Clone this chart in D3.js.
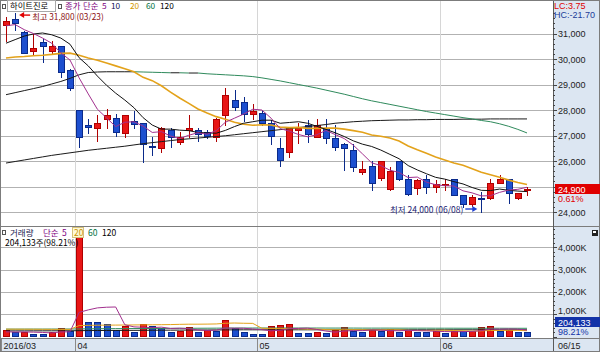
<!DOCTYPE html>
<html><head><meta charset="utf-8">
<script src="https://cdn.jsdelivr.net/npm/d3@7"></script>
<style>
html,body{margin:0;padding:0;background:#fff;}
svg{display:block;font-family:"Liberation Sans",Arial,sans-serif;}
</style></head><body>
<svg id="chart" width="600" height="352"></svg>
<script>
// ---------------- DATA ----------------
const dates = ["03/22","03/23","03/24","03/25","03/28","03/29","03/30","03/31",
"04/01","04/04","04/05","04/06","04/07","04/08","04/11","04/12","04/14","04/15","04/18","04/19","04/20","04/21","04/22","04/25","04/26","04/27","04/28","04/29",
"05/02","05/03","05/04","05/09","05/10","05/11","05/12","05/13","05/16","05/17","05/18","05/19","05/20","05/23","05/24","05/25","05/26","05/27","05/30","05/31",
"06/01","06/02","06/03","06/07","06/08","06/09","06/10","06/13","06/14","06/15"];
const open  = [31350,31550,31050,30300,30650,30300,30500,29550,28000,27400,27300,27650,27700,27100,27550,27500,26600,26500,27200,26750,27200,27200,27150,26950,27800,28400,28300,27850,27900,27500,26500,26350,27200,27400,26950,27300,26900,26650,26450,25550,25800,25350,24900,26000,25300,24950,25300,25000,25050,25300,24650,24300,24550,24550,25150,25300,24550,24850];
const high  = [31650,31800,31100,31000,30800,30700,30500,29600,28000,27650,27800,28050,27850,27800,27950,27500,26950,27350,27300,27150,27800,27300,27200,27700,28850,28800,28500,28250,28000,27600,26900,27350,27500,27600,27650,27650,27400,26700,26650,26000,26000,26000,25750,26000,25450,25300,25450,25250,25300,25300,24650,24650,24800,25300,25450,25300,24750,25000];
const low   = [30700,31150,30250,30150,29900,30200,29300,28800,26550,27100,26800,27300,27000,26950,27300,25950,26250,26350,26550,26650,26950,26800,26900,26800,27400,28000,27550,27650,27400,26650,25800,26150,26700,26750,26950,26700,26450,25650,25600,25500,24850,25250,24850,25250,24650,24700,24750,24800,24850,24650,24200,24250,24000,24500,25150,24350,24500,24650];
const close = [31500,31400,30250,30450,30500,30500,29500,28850,26950,27350,27500,27800,27150,27800,27450,26650,26550,27300,26950,26950,27300,27050,27000,27650,28600,28100,27850,27950,27500,27000,26050,27350,27300,27050,27400,26900,26550,26500,25750,25700,25150,26000,25600,25300,24700,25250,25000,25100,25100,24650,24300,24600,24500,25150,25300,24750,24750,24900];
const volume = [290000,190000,215000,110000,105000,190000,400000,245000,4470000,660000,640000,550000,300000,480000,190000,550000,480000,395000,190000,250000,440000,190000,280000,250000,740000,395000,190000,110000,100000,480000,515000,550000,170000,165000,190000,145000,290000,440000,250000,190000,290000,250000,335000,215000,290000,215000,210000,250000,143000,250000,245000,250000,425000,484000,247000,291000,207855,204133];

const ma5   = [31300,31350,31150,31000,30820,30620,30240,29960,29260,28630,28030,27690,27350,27520,27540,27370,27120,27150,26980,26880,27010,27110,27050,27190,27520,27680,27840,28030,28000,27680,27270,27170,27040,26950,27030,27200,27040,26880,26620,26280,25930,25820,25640,25550,25350,25370,25170,25070,25030,25020,24830,24750,24630,24640,24770,24860,24890,24970];
const ma10  = [30620,30760,30900,30980,31020,30950,30820,30580,30050,29730,29330,28970,28660,28390,28090,27700,27410,27250,27250,27210,27190,27120,27100,27090,27200,27350,27480,27540,27600,27600,27480,27510,27540,27480,27360,27240,27110,26960,26790,26660,26570,26430,26260,26090,25820,25650,25500,25360,25290,25190,25100,24960,24850,24840,24900,24850,24820,24800];
const ma20  = [30040,30080,30100,30130,30150,30180,30220,30230,30150,30040,29950,29840,29730,29620,29500,29280,29150,28950,28700,28470,28260,28040,27880,27740,27640,27520,27440,27400,27420,27410,27330,27310,27320,27280,27280,27290,27290,27250,27190,27130,27020,26970,26900,26780,26590,26440,26300,26160,26040,25920,25830,25700,25560,25460,25360,25250,25160,25080];
const ma60  = [28600,28680,28760,28840,28920,29020,29120,29240,29380,29470,29490,29500,29500,29500,29500,29490,29480,29470,29460,29460,29450,29450,29420,29400,29380,29360,29340,29310,29260,29200,29140,29070,29000,28930,28860,28780,28700,28620,28530,28440,28360,28290,28220,28150,28080,28010,27940,27880,27820,27760,27700,27650,27590,27540,27460,27360,27240,27100];
const ma120 = [25920,25980,26040,26100,26160,26220,26270,26320,26370,26420,26460,26500,26540,26580,26630,26680,26720,26760,26800,26840,26870,26900,26930,26960,26990,27030,27070,27110,27150,27190,27230,27270,27310,27350,27390,27430,27480,27510,27540,27560,27580,27590,27600,27610,27610,27620,27620,27630,27630,27630,27640,27640,27640,27650,27650,27650,27650,27650];

const volMa5   = [210,200,205,195,182,162,204,210,1082,1193,1283,1313,1324,526,432,414,400,419,361,373,351,293,270,282,380,371,371,337,307,255,279,351,363,376,318,244,192,246,263,263,292,284,263,256,276,261,253,236,222,214,220,228,263,331,330,339,331,287];
const volMa20  = [330,328,326,325,322,320,318,318,490,500,505,510,512,515,518,522,525,530,535,545,552,552,556,563,594,605,594,588,369,360,354,354,347,331,331,311,302,304,307,304,296,300,302,300,278,269,270,277,279,268,254,239,252,268,271,278,274,262];
const volMa60  = [330,330,331,332,332,333,334,335,340,345,348,350,352,354,356,358,360,362,364,366,368,370,372,374,376,378,380,380,380,380,380,380,380,380,380,378,378,378,378,376,376,376,376,374,374,374,374,372,372,372,370,370,370,370,370,368,368,368];
const volMa120 = [250,251,252,253,254,255,256,257,262,266,268,270,272,274,276,278,280,282,284,286,288,290,292,294,296,298,300,300,300,300,300,300,300,300,300,300,300,300,300,300,300,300,300,300,300,300,300,300,300,300,300,300,300,300,300,300,300,300];

const priceTicks = [24000,25000,26000,27000,28000,29000,30000,31000];
const volTicks = [1000000,2000000,3000000,4000000];
const volTickLabels = ["1,000K","2,000K","3,000K","4,000K"];
const monthStarts = ["03/22","04/01","05/02","06/01"];
const monthLabels = ["2016/03","04","05","06"];

// ---------------- LAYOUT ----------------
const W = 600, H = 352, PR = 553;
const svg = d3.select("#chart");
const xs = d3.scalePoint().domain(d3.range(dates.length)).range([6, 527]);
const step = xs.step();
const yP = d3.scaleLinear().domain([24000, 31000]).range([212, 33.5]);
const yV = d3.scaleLinear().domain([0, 4000000]).range([336.5, 247.3]);
const RED = "#e81616", RED_D = "#b00000", BLUE = "#1d4fcf", BLUE_D = "#0a2a8a";
const KR = "'Noto Sans CJK KR','Noto Sans',sans-serif";
const fmt = d3.format(",");

svg.append("rect").attr("width", W).attr("height", H).attr("fill", "#fff");
svg.append("rect").attr("x", PR).attr("y", 0).attr("width", W - PR).attr("height", H).attr("fill", "#dce6f2");
svg.append("rect").attr("x", 0).attr("y", 338).attr("width", PR).attr("height", 14).attr("fill", "#dce6f2");

const defs = svg.append("defs");
defs.append("clipPath").attr("id", "cp").append("rect").attr("x", 0).attr("y", 1).attr("width", PR).attr("height", 225);
defs.append("clipPath").attr("id", "cv").append("rect").attr("x", 0).attr("y", 227).attr("width", PR).attr("height", 111);

// gridlines
const grid = svg.append("g").attr("shape-rendering", "crispEdges");
priceTicks.forEach(t => {
  const y = Math.round(yP(t)) + 0.5;
  grid.append("line").attr("x1", 0).attr("x2", PR).attr("y1", y).attr("y2", y).attr("stroke", "#b2b2b2");
});
volTicks.forEach(t => {
  const y = Math.round(yV(t)) + 0.5;
  grid.append("line").attr("x1", 0).attr("x2", PR).attr("y1", y).attr("y2", y).attr("stroke", "#b2b2b2");
});
const monthIdx = monthStarts.map(m => dates.indexOf(m));
monthIdx.forEach((i, k) => {
  const x = Math.round(xs(i) - step / 2) + 0.5;
  if (k > 0) grid.append("line").attr("x1", x).attr("x2", x).attr("y1", 0).attr("y2", 338).attr("stroke", "#d6d6d6");
  grid.append("line").attr("x1", Math.max(x, 0.5)).attr("x2", Math.max(x, 0.5)).attr("y1", 338).attr("y2", 352).attr("stroke", "#8a8a8a");
  grid.append("text").attr("x", Math.max(x, 0) + 2).attr("y", 348.5).attr("font-size", 9).attr("fill", "#222").text(monthLabels[k]);
});

// ---------------- CANDLES ----------------
const gP = svg.append("g").attr("clip-path", "url(#cp)");
const cg = gP.append("g").attr("shape-rendering", "crispEdges");
dates.forEach((d, i) => {
  const up = close[i] >= open[i];
  const cx = Math.round(xs(i));
  const col = up ? RED : BLUE, dk = up ? RED_D : BLUE_D;
  cg.append("line").attr("x1", cx + 0.5).attr("x2", cx + 0.5)
    .attr("y1", Math.round(yP(high[i]))).attr("y2", Math.round(yP(low[i])) + 1).attr("stroke", dk);
  const yt = Math.round(yP(Math.max(open[i], close[i])));
  const yb = Math.round(yP(Math.min(open[i], close[i])));
  cg.append("rect").attr("x", cx - 3 + 0.5).attr("y", yt + 0.5)
    .attr("width", 6).attr("height", Math.max(1, yb - yt))
    .attr("fill", col).attr("stroke", dk);
});

function drawMA(g, arr, color, w, yfun) {
  g.append("path").attr("d", d3.line().x((d, i) => xs(i)).y(d => yfun(d))(arr))
    .attr("fill", "none").attr("stroke", color).attr("stroke-width", w);
}
drawMA(gP, ma120, "#1a1a1a", 1, yP);
// ma60: rising part drawn dark, falling part green
(function () {
  let seg = [0], cur = null;
  const segs = [];
  for (let i = 1; i < ma60.length; i++) {
    const c = ma60[i] < ma60[i - 1] ? "#2f8a5c" : "#1a1a1a";
    if (cur !== null && c !== cur) { segs.push({ c: cur, idx: seg }); seg = [i - 1]; }
    cur = c; seg.push(i);
  }
  segs.push({ c: cur, idx: seg });
  segs.forEach(s => gP.append("path")
    .attr("d", d3.line().x(i => xs(i)).y(i => yP(ma60[i]))(s.idx))
    .attr("fill", "none").attr("stroke", s.c).attr("stroke-width", 1));
})();
drawMA(gP, ma20, "#e3a21a", 1.6, yP);
drawMA(gP, ma10, "#111111", 1, yP);
drawMA(gP, ma5, "#a2308e", 1, yP);

// ---------------- VOLUME ----------------
const gV = svg.append("g").attr("clip-path", "url(#cv)");
const vg = gV.append("g").attr("shape-rendering", "crispEdges");
volume.forEach((v, i) => {
  const up = i === 0 || v >= volume[i - 1];
  const cx = Math.round(xs(i));
  const yt = Math.round(yV(v));
  vg.append("rect").attr("x", cx - 3 + 0.5).attr("y", yt + 0.5)
    .attr("width", 6).attr("height", 336 - yt)
    .attr("fill", up ? RED : BLUE).attr("stroke", up ? RED_D : BLUE_D);
});
const yVk = d => yV(d * 1000);
drawMA(gV, volMa120, "#1a1a1a", 1, yVk);
drawMA(gV, volMa60, "#2f8a5c", 1, yVk);
drawMA(gV, volMa20, "#e3a21a", 1, yVk);
drawMA(gV, volMa5, "#a2308e", 1, yVk);

// ---------------- FRAME ----------------
const fr = svg.append("g").attr("shape-rendering", "crispEdges");
fr.append("line").attr("x1", 0).attr("x2", W).attr("y1", 226.5).attr("y2", 226.5).attr("stroke", "#7c7c7c");
fr.append("line").attr("x1", 0).attr("x2", W).attr("y1", 338.5).attr("y2", 338.5).attr("stroke", "#7c7c7c");
fr.append("line").attr("x1", PR + 0.5).attr("x2", PR + 0.5).attr("y1", 0).attr("y2", H).attr("stroke", "#5a5a5a");
fr.append("rect").attr("x", 0.5).attr("y", 0.5).attr("width", W - 1).attr("height", H - 1).attr("fill", "none").attr("stroke", "#7c7c7c");

const last = close[close.length - 1], prev = close[close.length - 2];
const maxH = d3.max(high), minL = d3.min(low);
const yc = yP(last);
const vLast = volume[volume.length - 1], vPrev = volume[volume.length - 2];
const yvb = Math.min(yV(vLast), 322);
const vBoxTop = Math.round(yvb - 5);

// right price axis ticks + labels
for (let p = 24000; p <= 31800; p += 200) {
  const y = Math.round(yP(p)) + 0.5;
  const major = p % 1000 === 0;
  fr.append("line").attr("x1", PR).attr("x2", PR + (major ? 4 : 2)).attr("y1", y).attr("y2", y).attr("stroke", "#444");
}
priceTicks.forEach(t => {
  if (Math.abs(yP(t) - yc) < 9) return; // hidden under the current-price box
  svg.append("text").attr("x", 558).attr("y", yP(t) + 3.5).attr("font-size", 9).attr("fill", "#222").text(fmt(t));
});
for (let v = 0; v <= 4800000; v += 200000) {
  const y = Math.round(yV(v)) + 0.5;
  if (y < 228) continue;
  const major = v % 1000000 === 0;
  fr.append("line").attr("x1", PR).attr("x2", PR + (major ? 4 : 2)).attr("y1", y).attr("y2", y).attr("stroke", "#444");
}
volTicks.forEach((t, k) => {
  const by = Math.min(yV(t) + 3.5, vBoxTop - 3);
  svg.append("text").attr("x", 558).attr("y", by).attr("font-size", 9).attr("fill", "#222").text(volTickLabels[k]);
});

// LC / HC
svg.append("text").attr("x", 554).attr("y", 8.5).attr("font-size", 9).attr("fill", "#e00000").text("LC:" + ((last - minL) / minL * 100).toFixed(2));
svg.append("text").attr("x", 554).attr("y", 17.5).attr("font-size", 9).attr("fill", "#1a3c9a").text("HC:" + ((last - maxH) / maxH * 100).toFixed(2));

// current price box
svg.append("rect").attr("x", 555).attr("y", Math.round(yc - 5)).attr("width", 45).attr("height", 10).attr("fill", "#e00000");
svg.append("text").attr("x", 558).attr("y", yc + 3.5).attr("font-size", 9).attr("fill", "#fff").text(fmt(last));
svg.append("text").attr("x", 558).attr("y", yc + 12.5).attr("font-size", 9).attr("fill", "#e00000").text(((last - prev) / prev * 100).toFixed(2) + "%");

// current volume box
svg.append("rect").attr("x", 555).attr("y", vBoxTop).attr("width", 45).attr("height", 10).attr("fill", "#1232a8");
svg.append("text").attr("x", 558).attr("y", vBoxTop + 8.5).attr("font-size", 9).attr("fill", "#fff").text(fmt(vLast));
svg.append("text").attr("x", 558).attr("y", vBoxTop + 17.5).attr("font-size", 9).attr("fill", "#1232a8").text((vLast / vPrev * 100).toFixed(2) + "%");
// small icon
svg.append("rect").attr("x", 591.5).attr("y", 229.5).attr("width", 6).attr("height", 6).attr("fill", "#222").attr("shape-rendering", "crispEdges");
svg.append("rect").attr("x", 593).attr("y", 231).attr("width", 3).attr("height", 2).attr("fill", "#fff").attr("shape-rendering", "crispEdges");
// date at right of x strip
svg.append("text").attr("x", 558).attr("y", 348.5).attr("font-size", 9).attr("fill", "#222").text(dates[dates.length - 1]);

// ---------------- LEGENDS ----------------
function sq(x, y) {
  svg.append("rect").attr("x", x + 0.5).attr("y", y + 0.5).attr("width", 3).attr("height", 4)
    .attr("fill", "#fff").attr("stroke", "#555").attr("shape-rendering", "crispEdges");
}
function t(x, y, s, c, size) {
  return svg.append("text").attr("x", x).attr("y", y).attr("font-size", size || 8.5).attr("fill", c)
    .attr("font-family", KR).text(s);
}
sq(2, 4);
svg.append("rect").attr("x", 7.5).attr("y", 0.5).attr("width", 48).attr("height", 11).attr("fill", "#fff").attr("stroke", "#a8a8a8").attr("shape-rendering", "crispEdges");
t(10, 8.8, "하이트진로", "#000", 8.3);
sq(58, 4);
t(65, 8.8, "종가", "#800080", 8.3);
t(83, 8.8, "단순", "#800080", 8.3);
t(102, 8.8, "5", "#800080", 8.3);
t(111, 8.8, "10", "#10105a", 8.3);
t(130, 8.8, "20", "#d49a00", 8.3);
t(146, 8.8, "60", "#007040", 8.3);
t(160, 8.8, "120", "#000", 8.3);

sq(2, 230);
t(10, 235.5, "거래량", "#1a1a50");
t(43, 235.5, "단순", "#800080");
t(62, 235.5, "5", "#800080");
svg.append("rect").attr("x", 72.5).attr("y", 227.5).attr("width", 11).attr("height", 10).attr("fill", "#fff8d8").attr("stroke", "#d6c27a").attr("shape-rendering", "crispEdges");
t(74, 235.5, "20", "#c89600");
t(88, 235.5, "60", "#007040");
t(102, 235.5, "120", "#000");
t(5, 246, fmt(vLast) + "주(" + (vLast / vPrev * 100).toFixed(2) + "%)", "#000");

// ---------------- ANNOTATIONS ----------------
const iH = high.indexOf(maxH), iL = low.indexOf(minL);
const hx = xs(iH) + 4, hy = yP(maxH) + 2;
svg.append("path").attr("d", `M${hx},${hy} l5,-3 v6 z`).attr("fill", "#e00000");
svg.append("line").attr("x1", hx + 4).attr("x2", hx + 11).attr("y1", hy).attr("y2", hy).attr("stroke", "#e00000").attr("stroke-width", 1.4);
t(hx + 13, hy + 5, "최고 " + fmt(maxH) + " (" + dates[iH] + ")", "#8a0f0f", 8.3);

const lx = xs(iL) - 4, ly = yP(minL) - 3;
svg.append("path").attr("d", `M${lx},${ly} l-5,-3 v6 z`).attr("fill", "#1f3fd0");
svg.append("line").attr("x1", lx - 4).attr("x2", lx - 12).attr("y1", ly).attr("y2", ly).attr("stroke", "#1f3fd0").attr("stroke-width", 1.4);
t(lx - 14, ly + 3.5, "최저 " + fmt(minL) + " (" + dates[iL] + ")", "#1a1a70").attr("text-anchor", "end");
</script>
</body></html>
